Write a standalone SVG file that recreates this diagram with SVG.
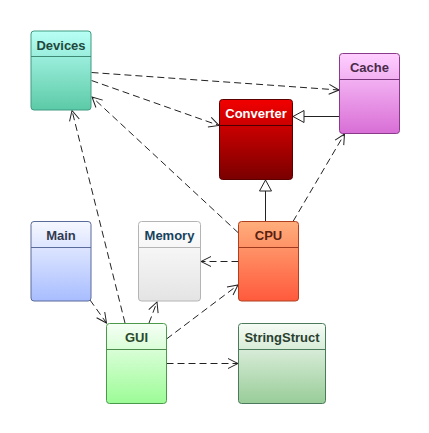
<svg xmlns="http://www.w3.org/2000/svg" width="429" height="433" viewBox="0 0 429 433">
<defs>
<linearGradient id="gDev" x1="0" y1="0" x2="0" y2="1"><stop offset="0" stop-color="#b8fff6"/><stop offset="1" stop-color="#5ccaa6"/></linearGradient>
<linearGradient id="gCache" x1="0" y1="0" x2="0" y2="1"><stop offset="0" stop-color="#ffd0ff"/><stop offset="1" stop-color="#d86ed6"/></linearGradient>
<linearGradient id="gConv" x1="0" y1="0" x2="0" y2="1"><stop offset="0" stop-color="#f20000"/><stop offset="1" stop-color="#7a0000"/></linearGradient>
<linearGradient id="gMain" x1="0" y1="0" x2="0" y2="1"><stop offset="0" stop-color="#f6f8ff"/><stop offset="1" stop-color="#a8bdff"/></linearGradient>
<linearGradient id="gMem" x1="0" y1="0" x2="0" y2="1"><stop offset="0" stop-color="#ffffff"/><stop offset="1" stop-color="#e4e4e4"/></linearGradient>
<linearGradient id="gCpu" x1="0" y1="0" x2="0" y2="1"><stop offset="0" stop-color="#ffae7c"/><stop offset="1" stop-color="#ff5a3c"/></linearGradient>
<linearGradient id="gGui" x1="0" y1="0" x2="0" y2="1"><stop offset="0" stop-color="#f6fff6"/><stop offset="1" stop-color="#9cfc96"/></linearGradient>
<linearGradient id="gStr" x1="0" y1="0" x2="0" y2="1"><stop offset="0" stop-color="#f6fbf6"/><stop offset="1" stop-color="#98cc98"/></linearGradient>
<marker id="open" markerWidth="12" markerHeight="12" refX="11" refY="6" orient="auto" markerUnits="userSpaceOnUse"><path d="M1,1 L11,6 L1,11" fill="none" stroke="#222" stroke-width="1"/></marker>
<marker id="tri" markerWidth="14" markerHeight="14" refX="12" refY="7" orient="auto" markerUnits="userSpaceOnUse"><path d="M1,1 L12,7 L1,13 Z" fill="#fff" stroke="#222" stroke-width="1"/></marker>
</defs>
<style>
.box{stroke-width:1}
.t{font-family:"Liberation Sans",Arial,sans-serif;font-weight:bold;font-size:13px;text-anchor:middle}
.dep{fill:none;stroke:#222;stroke-width:1;stroke-dasharray:7,4;marker-end:url(#open)}
.inh{fill:none;stroke:#222;stroke-width:1;marker-end:url(#tri)}
</style>
<g id="connectors">
<line class="dep" x1="91.5" y1="72.5" x2="339" y2="90"/>
<line class="dep" x1="91.5" y1="80.5" x2="219" y2="125.5"/>
<line class="dep" x1="125" y1="323" x2="72" y2="110.5"/>
<line class="dep" x1="238.5" y1="233" x2="92" y2="97"/>
<line class="dep" x1="293" y1="221.5" x2="344.5" y2="134"/>
<line class="dep" x1="238.5" y1="261.5" x2="201" y2="261.5"/>
<line class="dep" x1="166.5" y1="339" x2="238" y2="285"/>
<line class="dep" x1="149" y1="323" x2="157" y2="302"/>
<line class="dep" x1="90" y1="300" x2="106.5" y2="323"/>
<line class="dep" x1="166.5" y1="363.5" x2="238" y2="363.5"/>
<line class="inh" x1="265.5" y1="221.5" x2="265.5" y2="180"/>
<line class="inh" x1="339.5" y1="116.5" x2="293" y2="116.5"/>
</g>
<g id="Devices">
<rect class="box" x="31" y="31" width="60" height="79" rx="3" fill="url(#gDev)" stroke="#3e9c82"/>
<line x1="31" y1="56.5" x2="91" y2="56.5" stroke="#3e8a74"/>
<text class="t" x="61" y="49.5" fill="#22483d">Devices</text>
</g>
<g id="Cache">
<rect class="box" x="339.5" y="53.5" width="60" height="80" rx="3" fill="url(#gCache)" stroke="#8a3a8a"/>
<line x1="339.5" y1="79.5" x2="399.5" y2="79.5" stroke="#7a347a"/>
<text class="t" x="369.5" y="72" fill="#4a2a4a">Cache</text>
</g>
<g id="Converter">
<rect class="box" x="219.5" y="99.5" width="73" height="80" rx="3" fill="url(#gConv)" stroke="#5a0000"/>
<line x1="219.5" y1="125.5" x2="292.5" y2="125.5" stroke="#4a0000"/>
<text class="t" x="256" y="118" fill="#ffffff">Converter</text>
</g>
<g id="Main">
<rect class="box" x="31" y="221.5" width="60" height="79.5" rx="3" fill="url(#gMain)" stroke="#5a6a9a"/>
<line x1="31" y1="247.5" x2="91" y2="247.5" stroke="#5a6a9a"/>
<text class="t" x="61" y="240" fill="#333a50">Main</text>
</g>
<g id="Memory">
<rect class="box" x="138.5" y="221.5" width="62" height="79.5" rx="3" fill="url(#gMem)" stroke="#b4b4b4"/>
<line x1="138.5" y1="247.5" x2="200.5" y2="247.5" stroke="#b4b4b4"/>
<text class="t" x="169.5" y="240" fill="#16425e">Memory</text>
</g>
<g id="CPU">
<rect class="box" x="238.5" y="221.5" width="60" height="79.5" rx="3" fill="url(#gCpu)" stroke="#b04020"/>
<line x1="238.5" y1="247.5" x2="298.5" y2="247.5" stroke="#a03a1e"/>
<text class="t" x="268.5" y="240" fill="#5a2010">CPU</text>
</g>
<g id="GUI">
<rect class="box" x="106.5" y="323.5" width="60" height="80" rx="3" fill="url(#gGui)" stroke="#4a9a4a"/>
<line x1="106.5" y1="349.5" x2="166.5" y2="349.5" stroke="#4a8a4a"/>
<text class="t" x="136.5" y="342" fill="#2a4a2a">GUI</text>
</g>
<g id="StringStruct">
<rect class="box" x="238.5" y="323.5" width="87" height="80" rx="3" fill="url(#gStr)" stroke="#4a7a5a"/>
<line x1="238.5" y1="349.5" x2="325.5" y2="349.5" stroke="#4a7a5a"/>
<text class="t" x="282" y="342" fill="#2a4030">StringStruct</text>
</g>
</svg>
